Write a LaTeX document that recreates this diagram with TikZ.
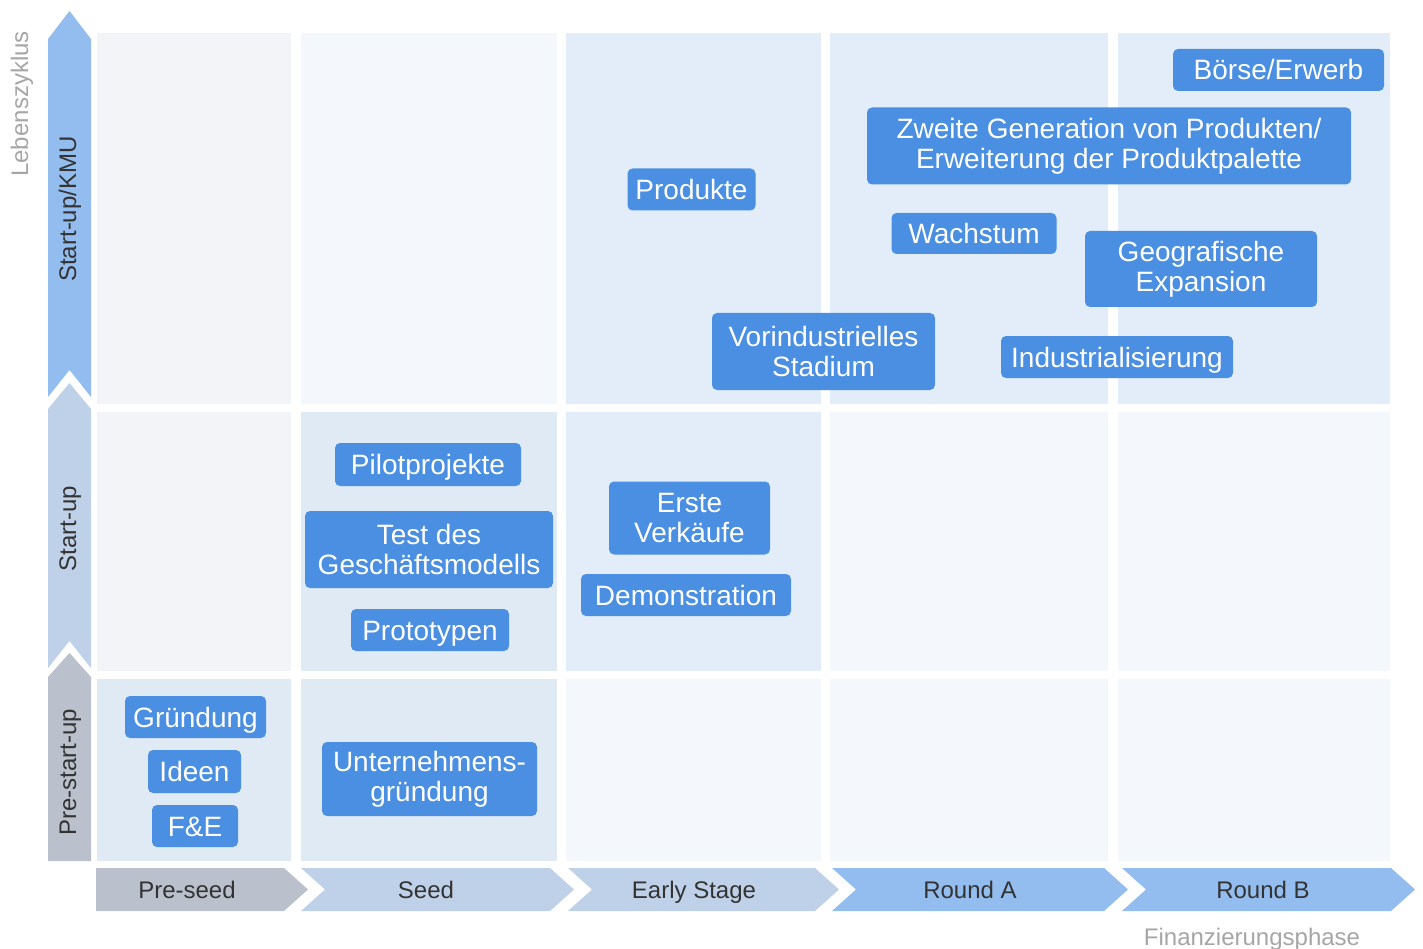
\documentclass[tikz,border=0pt]{standalone}
\usepackage{fontspec}
\setmainfont{Liberation Sans}
\definecolor{boxblue}{HTML}{4A8FE1}
\definecolor{arrblue}{HTML}{93BDEE}
\definecolor{arrpale}{HTML}{BFD1E8}
\definecolor{arrgrey}{HTML}{BAC1CC}
\definecolor{cellgrey}{HTML}{F2F4F7}
\definecolor{cellmid}{HTML}{E0EAF4}
\definecolor{cellblue}{HTML}{E2EDF9}
\definecolor{celllight}{HTML}{F4F8FD}
\definecolor{labdark}{HTML}{333333}
\definecolor{axisgrey}{HTML}{A6A6A6}
\begin{document}
\begin{tikzpicture}[x=1pt,y=-1pt,
  box/.style={fill=boxblue, rounded corners=5pt, text=white, inner sep=0pt,
    align=center, font=\fontsize{28}{30}\selectfont},
  boxone/.style={box, text height=20pt, text depth=0pt},
  phaselabel/.style={text=labdark, inner sep=0pt, anchor=base, font=\fontsize{24}{28}\selectfont},
  stagelabel/.style={text=labdark, inner sep=0pt, anchor=base, rotate=90, font=\fontsize{24}{28}\selectfont},
  axislabel/.style={text=axisgrey, inner sep=0pt, anchor=base, font=\fontsize{24}{28}\selectfont}]
\useasboundingbox (0,0) rectangle (1423,949);
\fill[white] (0,0) rectangle (1423,949);
% cells: columns [97,291],[301,557],[566,821],[830,1108],[1118,1390]; rows [33,404],[412,671],[679,861]
\fill[cellgrey]  (97,33) rectangle (291,404);
\fill[cellgrey]  (97,412) rectangle (291,671);
\fill[cellmid]   (97,679) rectangle (291,861);
\fill[celllight] (301,33) rectangle (557,404);
\fill[cellmid]   (301,412) rectangle (557,671);
\fill[cellmid]   (301,679) rectangle (557,861);
\fill[cellblue]  (566,33) rectangle (821,404);
\fill[cellblue]  (566,412) rectangle (821,671);
\fill[celllight] (566,679) rectangle (821,861);
\fill[cellblue]  (830,33) rectangle (1108,404);
\fill[celllight] (830,412) rectangle (1108,671);
\fill[celllight] (830,679) rectangle (1108,861);
\fill[cellblue]  (1118,33) rectangle (1390,404);
\fill[celllight] (1118,412) rectangle (1390,671);
\fill[celllight] (1118,679) rectangle (1390,861);
% vertical arrows
\fill[arrblue] (48,39) -- (69.5,11) -- (91,39) -- (91,397) -- (69.5,370) -- (48,397) -- cycle;
\fill[arrpale] (48,409) -- (69.5,383) -- (91,409) -- (91,668) -- (69.5,641) -- (48,668) -- cycle;
\fill[arrgrey] (48,677) -- (69.5,653) -- (91,677) -- (91,861) -- (48,861) -- cycle;
\node[stagelabel] (kmu) at (76,209) {Start-up/KMU};
\node[stagelabel] (startup) at (76,528.5) {Start-up};
\node[stagelabel] (prestart) at (76,772.5) {Pre-start-up};
\node[axislabel, rotate=90] (leben) at (28,104) {Lebenszyklus};
% horizontal arrows
\fill[arrgrey] (96,868) -- (284,868) -- (308,889.5) -- (284,911) -- (96,911) -- cycle;
\fill[arrpale] (301,868) -- (550,868) -- (574,889.5) -- (550,911) -- (301,911) -- (325,889.5) -- cycle;
\fill[arrpale] (568,868) -- (815,868) -- (839,889.5) -- (815,911) -- (568,911) -- (592,889.5) -- cycle;
\fill[arrblue] (832,868) -- (1104,868) -- (1128,889.5) -- (1104,911) -- (832,911) -- (856,889.5) -- cycle;
\fill[arrblue] (1122,868) -- (1391,868) -- (1415,889.5) -- (1391,911) -- (1122,911) -- (1146,889.5) -- cycle;
\node[phaselabel] (preseed) at (187,898) {Pre-seed};
\node[phaselabel] (seed) at (426,898) {Seed};
\node[phaselabel] (early) at (694,898) {Early Stage};
\node[phaselabel] (rounda) at (970,898) {Round A};
\node[phaselabel] (roundb) at (1263,898) {Round B};
\node[axislabel] (finanz) at (1252,945) {Finanzierungsphase};
% boxes
\node[boxone, minimum width=211pt, minimum height=42pt] (boerse) at (1278.5,70) {Börse/Erwerb};
\node[box, minimum width=484pt, minimum height=77pt] (zweite) at (1109,146) {Zweite Generation von Produkten/\\Erweiterung der Produktpalette};
\node[boxone, minimum width=128pt, minimum height=42pt] (produkte) at (691.5,189.5) {Produkte};
\node[boxone, minimum width=165pt, minimum height=41pt] (wachstum) at (974,233.5) {Wachstum};
\node[box, minimum width=232pt, minimum height=76pt] (geo) at (1201,269) {Geografische\\Expansion};
\node[box, minimum width=223pt, minimum height=77pt] (vorind) at (823.5,351.5) {Vorindustrielles\\Stadium};
\node[boxone, minimum width=232pt, minimum height=42pt] (indus) at (1117,357) {Industrialisierung};
\node[boxone, minimum width=186pt, minimum height=43pt] (pilot) at (428,464.5) {Pilotprojekte};
\node[box, minimum width=248pt, minimum height=77pt] (test) at (429,549.5) {Test des\\Geschäftsmodells};
\node[boxone, minimum width=158pt, minimum height=42pt] (proto) at (430,630) {Prototypen};
\node[box, minimum width=161pt, minimum height=73pt] (erste) at (689.5,518) {Erste\\Verkäufe};
\node[boxone, minimum width=210pt, minimum height=42pt] (demo) at (686,595) {Demonstration};
\node[boxone, minimum width=141pt, minimum height=42pt] (gruend) at (195.5,717) {Gründung};
\node[boxone, minimum width=93pt, minimum height=43pt] (ideen) at (194.5,771.5) {Ideen};
\node[boxone, minimum width=86pt, minimum height=42pt] (fue) at (195,826) {F\&E};
\node[box, minimum width=215pt, minimum height=74pt] (unter) at (429.5,779) {Unternehmens-\\gründung};
\end{tikzpicture}
\end{document}
